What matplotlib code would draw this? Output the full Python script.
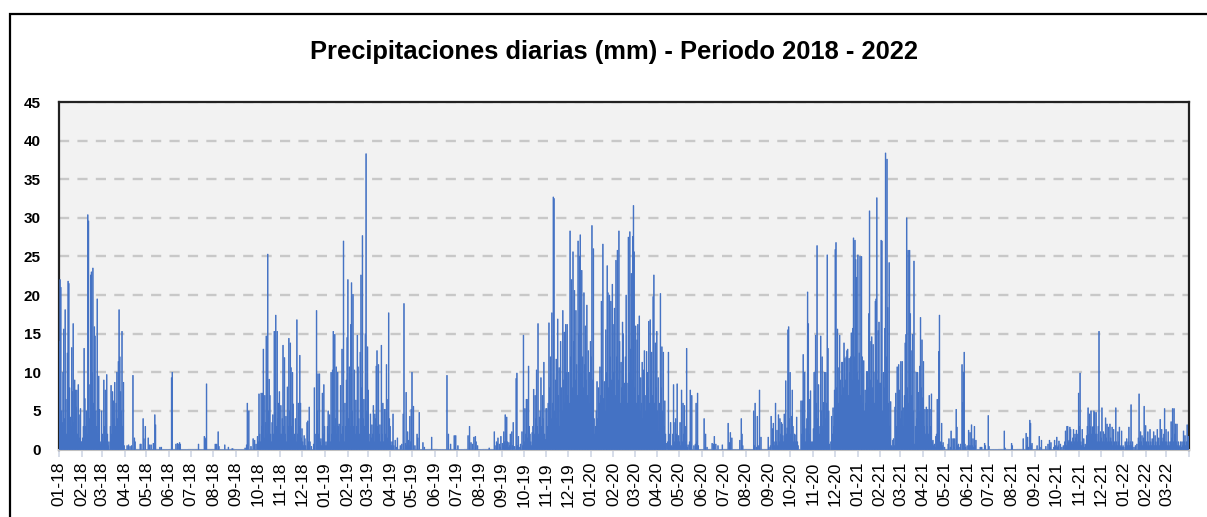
import matplotlib
matplotlib.use('Agg')
import matplotlib.pyplot as plt
import numpy as np
import pandas as pd
from matplotlib.patches import Rectangle

title = "Precipitaciones diarias (mm) - Periodo 2018 - 2022"
start_date = "2018-01-01"
end_date = "2022-03-31"
y_ticks = [0, 5, 10, 15, 20, 25, 30, 35, 40, 45]

# Daily precipitation (mm), one list per month
rain_2018 = [
    [14, 22, 21, 5, 3.5, 10, 15.6, 4, 18.1, 6.5, 2, 12.5, 21.8, 21.5, 8, 4.2, 3, 13.2, 7.5, 16.3, 3.5, 9, 7.7, 5.5, 7.7, 2, 8.4, 4.5, 1.5, 5.3, 1],
    [1, 1.5, 3, 13.1, 6.6, 3, 5, 2, 30.4, 29.6, 4, 8.4, 22.6, 23, 10, 23.5, 6, 15.9, 14.7, 5, 3, 19.5, 2, 9.5, 5.2, 1, 0.7, 5],
    [2, 1, 9, 3, 7.7, 1.5, 9.7, 2, 0.5, 1, 0, 3, 8.3, 2, 7.5, 6.3, 4, 8.7, 3, 6, 10, 4, 11.4, 18.1, 12, 7.5, 5, 15.3, 3, 8.7, 0.5],
    [0, 0, 0, 0.5, 0, 0.6, 0, 0.4, 0, 0.5, 0, 9.6, 0, 1.5, 1, 0, 0, 0, 0, 0, 0, 0.7, 0.7, 0, 0, 4, 1.4, 0, 3, 0],
    [0, 0, 1.5, 0, 0.6, 0, 0.6, 0, 0, 0.8, 0, 4.5, 3.2, 0, 0, 0, 0, 0, 0.3, 0, 0.3, 0, 0, 0, 0, 0, 0, 0, 0, 0, 0],
    [0, 0, 0, 9.3, 10, 0, 0, 0, 0, 0.7, 0, 0.8, 0, 0.7, 0.9, 0.7, 0, 0, 0, 0, 0, 0, 0, 0, 0, 0, 0, 0, 0, 0],
    [0, 0, 0, 0, 0, 0, 0, 0, 0, 0, 0.7, 0, 0, 0, 0, 0, 0, 0, 1.7, 1.5, 1.3, 8.5, 0, 0, 0, 0, 0, 0, 0, 0, 0],
    [0, 0, 0.7, 0, 0.7, 0, 2.3, 0.4, 0, 0, 0, 0, 0, 0, 0, 0.6, 0, 0, 0, 0, 0.3, 0, 0, 0, 0, 0.1, 0.1, 0, 0, 0, 0],
    [0, 0, 0, 0, 0, 0, 0, 0, 0, 0, 0, 0, 0.2, 0, 0.6, 6, 0, 5, 0, 0, 0.4, 0, 0, 1.4, 0, 1.2, 0, 0.7, 0, 1.7],
    [1, 7.2, 2, 1, 7.3, 3, 7.3, 13, 1.5, 7, 3.5, 14.7, 2, 25.3, 5, 9.1, 7, 2, 1, 3.5, 4.5, 2, 15.3, 6, 17.4, 3, 15.3, 4, 6, 7.5, 2],
    [5.7, 2, 4, 13.5, 3, 11.9, 2, 4.3, 1, 8.1, 3, 14.4, 5, 13.8, 10.6, 3, 10, 5.9, 1.5, 2, 4, 1, 16.8, 2, 6, 3, 12.2, 6, 1.5, 2.7],
    [1, 0.5, 1.8, 1.4, 0.5, 0, 3.5, 3.7, 1, 5.5, 1, 0, 0.4, 0, 0, 0.7, 8, 2, 0, 18, 5, 9.8, 2, 9.8, 1, 1.4, 0.5, 7.3, 2, 8.4, 3],
]
rain_2019 = [
    [0.5, 1, 0.5, 3, 5, 2, 4.5, 1, 10, 2, 10.3, 15.3, 3, 14.9, 4, 10.7, 2, 10, 3, 3.3, 1, 8.3, 2, 13, 3, 27, 1, 6, 3, 9, 14.5],
    [22, 4, 10.7, 3, 16.2, 21.6, 5, 20.1, 3, 10.3, 2, 6.4, 3, 14.8, 10.7, 4, 2, 12.6, 22.6, 8, 27.7, 4, 6.5, 3, 15, 38.3, 5, 13.3],
    [7.7, 2, 1, 4.6, 1.5, 3.2, 2, 5.7, 1, 4.6, 4, 10.8, 12.8, 3, 11, 2, 3.2, 1, 13.5, 2, 6, 1, 5.2, 5.2, 2, 11, 1.5, 6.5, 17.7, 4, 3],
    [1, 0.5, 1, 4.6, 0.5, 0, 1.2, 0, 0.3, 1.5, 0, 0, 0, 0.5, 0, 0.7, 0, 4.6, 18.9, 0, 0.8, 7.4, 0.5, 2.3, 1.2, 0.5, 4.3, 1, 5.2, 10],
    [0, 5.6, 0, 0.5, 0, 0, 2, 1.5, 0, 4.8, 0, 0, 0, 0, 0.9, 0, 0.3, 0, 0, 0, 0, 0, 0, 0, 0, 0, 1.6, 0, 0, 0, 0],
    [0, 0, 0, 0, 0, 0, 0, 0, 0, 0, 0, 0, 0, 0, 0, 0, 9.6, 0, 2, 0, 0, 0.7, 0, 0, 0, 0, 1.8, 0, 1.8, 0],
    [0, 0.5, 0, 0, 0, 0, 0, 0, 0, 0, 0, 0, 0, 0, 0, 1.8, 0, 3, 0, 0.9, 0, 0.7, 0, 1.6, 0, 1.7, 1, 0, 0.5, 0, 0],
    [0, 0, 0, 0, 0, 0, 0, 0, 0, 0, 0, 0, 0, 0.2, 0, 0, 0, 0, 0, 0, 2.3, 0.5, 0, 1, 0.8, 1.5, 0, 0.7, 0.3, 1.7, 0],
    [0.8, 0.5, 2.3, 1, 4.5, 0.5, 4.2, 1, 0.3, 0.9, 0.5, 2, 0, 2.3, 0.5, 3.5, 0, 0.4, 0, 9.2, 9.9, 0.5, 1.7, 0, 0.3, 0.7, 0, 2.3, 0.5, 14.8],
    [1, 5.3, 2, 6.5, 6.5, 1.5, 10.8, 3, 2, 1, 0.5, 2.2, 3, 7.8, 2, 7, 4, 10.3, 3, 16.3, 2, 4.2, 5, 9.3, 3, 7, 4, 11.3, 2, 1.3, 5.3],
    [5.3, 3, 6, 16.4, 8, 12, 4, 17.7, 6, 32.7, 32.5, 5, 9, 11.7, 4, 16.9, 7, 10.6, 3, 14, 8, 5, 18, 9, 15.2, 6, 16.2, 10, 16.2, 7],
    [10, 6, 28.3, 12, 22, 8, 25.6, 14, 20.6, 9, 18, 11, 7, 27, 15, 25, 27.8, 10, 23.2, 12, 8, 20.3, 11, 16, 9, 18.7, 7, 12.8, 6, 10, 14],
]
rain_2020 = [
    [12, 29, 9, 26, 4, 2, 3, 5, 8.8, 4, 8, 6, 10.7, 7, 19.2, 9, 26.6, 6.6, 8.8, 5, 15.5, 10, 23.8, 20.3, 8, 20, 12, 19.2, 9, 21.4, 16.2],
    [10, 18.3, 7, 24.5, 12, 25.8, 9, 28.3, 14, 6, 11.3, 8, 16.5, 15, 7, 8.6, 12, 20, 8.6, 6, 27.5, 10, 28.2, 13, 22.8, 9, 27.6, 31.6, 25.6],
    [8, 16, 6, 14.2, 16.2, 7, 17.3, 5, 9.3, 6, 11.3, 4, 10.3, 12.8, 7, 5, 12.7, 10, 8, 16.6, 6, 16.8, 9, 12.6, 7, 19.8, 22.6, 6, 13.8, 8, 15.3],
    [5, 9.3, 2.3, 6, 20.2, 8, 13.3, 5, 12.6, 3, 6.3, 2, 0.8, 0, 1, 12.6, 2, 1, 3.5, 0.5, 0.3, 2, 8.4, 1, 3.5, 4, 2, 8.5, 1, 1.8],
    [1, 3.5, 0.5, 7.7, 1, 6, 2, 5.7, 3, 1, 13.1, 0.3, 0.6, 0, 1, 7.7, 0.5, 7, 0, 0, 0.5, 0, 0.7, 6, 1, 7.3, 0.5, 0, 0, 0, 0],
    [0, 0, 0, 4, 0, 2, 0, 0.3, 0, 0, 0, 0, 0, 0, 0.8, 0, 0.7, 1.7, 0, 0.7, 0, 0, 0.5, 0, 0, 0, 0, 0, 0.6, 0],
    [0, 0, 0, 0, 0, 0, 3.4, 0, 0.9, 2.2, 0, 1.5, 0, 0, 0, 0, 0, 0, 0, 0, 0, 0, 1.2, 0, 4, 2, 0.5, 0, 0, 0, 0],
    [0, 0, 0, 0, 0, 0, 0, 0, 0, 0, 5, 0.5, 6, 0, 0.3, 4.3, 0, 0.5, 7.7, 0, 1.6, 0, 0, 0, 0, 0, 0, 0, 0, 0, 1.6],
    [0.3, 0, 0.5, 4.3, 0, 2.7, 3.4, 1, 0.5, 6, 1, 2.5, 0.5, 4.5, 1, 4, 2, 3.5, 3.3, 1.8, 1, 4.6, 2, 8.9, 2, 2.8, 15.5, 15.9, 4, 10],
    [2, 4.3, 7.7, 3, 1, 2, 1, 1.9, 4.2, 1, 0.5, 0, 0, 0, 6.3, 2, 6.3, 12.3, 3, 10, 1, 2.7, 4, 20.4, 16.3, 2, 6.5, 7.6, 1, 0.7, 1],
    [2.7, 10, 7.6, 14.8, 6, 26.4, 4, 8.4, 2, 3, 14.7, 5, 12, 3, 6.1, 10, 4, 10, 6, 25.2, 13.1, 5, 0.7, 0, 1, 4.3, 2, 5.4, 3, 7.7],
    [25.9, 26.8, 8, 15.6, 6, 10.6, 14.8, 9, 7, 11.3, 11.3, 8, 13.8, 11.8, 9, 12, 12.8, 13, 7, 11.8, 10, 12, 15.1, 9, 15.7, 27.4, 12, 27.1, 24.6, 22.3, 10],
]
rain_2021 = [
    [25.2, 9, 12.5, 25, 7, 25, 12, 6, 11.5, 5, 7.7, 6, 10.1, 10.1, 8, 17.6, 30.9, 9, 14, 14.6, 8, 13.6, 10, 6, 19.2, 19.5, 32.6, 9, 15.4, 16.5, 8.6],
    [8.6, 27.1, 27, 5, 10, 8, 15.7, 38.4, 12, 37.6, 18.4, 6, 24.2, 3, 6.2, 0.5, 0.3, 1.2, 1.4, 0.5, 5.5, 7.3, 3, 10.7, 5, 11, 7.7, 4],
    [11.4, 5, 11.4, 3, 5.4, 7, 13.8, 14.9, 30, 8, 25.8, 6, 25.8, 17.6, 12.8, 7, 14.9, 5, 24.4, 0.7, 3, 10, 4, 10, 7.4, 5, 10.8, 17.1, 8, 14.2, 6.7],
    [11.4, 3, 5.2, 2, 5.5, 3, 5.2, 2, 7, 5.2, 3, 7.2, 1, 1.2, 0.5, 0.7, 0.3, 1.7, 2, 6.5, 4, 12.7, 17.4, 1, 0.9, 3.4, 0.5, 0.9, 0, 0.3],
    [0, 0, 0, 0, 0.7, 1.4, 0, 0.3, 2.4, 1.4, 0, 1.4, 0.3, 1.4, 0, 5.2, 2.9, 0.5, 0.7, 0, 0.3, 0.7, 0, 11, 6.1, 10, 12.6, 0.7, 0.3, 0, 0.5],
    [0, 2.5, 0.5, 2.2, 0.5, 3.2, 0.5, 1.4, 0.3, 3, 0.5, 1.2, 0, 0, 0, 0, 0, 0.3, 0, 0.3, 0, 0, 0, 0.8, 0.5, 0, 0, 0, 4.4, 0.4],
    [0, 0, 0, 0, 0, 0, 0, 0, 0, 0, 0, 0, 0, 0, 0, 0, 0, 0, 0, 0, 2.4, 0.2, 0, 0, 0, 0, 0, 0, 0, 0, 0.8],
    [0.5, 0, 0, 0, 0, 0, 0, 0, 0, 0, 0, 0, 0, 0, 0, 1.4, 0, 0, 0, 2.1, 0.5, 1.6, 0.3, 0, 3.8, 3.4, 0.5, 0.8, 0, 0, 0],
    [0, 0, 0, 0.5, 0, 0, 1.7, 0.3, 0, 1.2, 0, 0, 0, 0, 0, 0.4, 0, 0, 0.7, 0, 1.2, 0.3, 0.9, 0, 0, 0, 0.3, 1.2, 0.5, 0],
    [1.6, 0.3, 0.5, 1.1, 0, 0.7, 0, 0.3, 0, 0.5, 0, 1, 2.4, 0.5, 3, 3, 1, 1.2, 2.9, 2.6, 1, 0.7, 1.5, 2.6, 1, 2, 1.5, 2.5, 1, 2, 7.3],
    [3, 9.9, 1, 0.5, 2.6, 1, 1.4, 0.3, 0.7, 0.5, 1.8, 3, 5.4, 2, 4.6, 3, 5, 2, 2.9, 3, 5, 4.8, 2, 4.8, 2, 1, 3, 15.3, 1, 2.3],
    [1.5, 5.4, 1, 2.3, 1, 2, 4.1, 1.5, 3.3, 1, 2.9, 1, 3.3, 1.5, 1, 2.9, 0.5, 2.6, 1, 0.5, 5.4, 1, 0.5, 2.3, 1, 2.9, 0.3, 0.5, 2.4, 0.3, 0.5],
]
rain_2022 = [
    [0.3, 0, 1, 0.3, 1.4, 0.5, 1, 2.9, 0.5, 1, 5.8, 0.5, 1, 0, 0.3, 0, 0.5, 0, 0.7, 0, 1.5, 7.2, 1, 2.3, 1, 1.8, 0.5, 1.5, 5.6, 1, 3.1],
    [1, 0.5, 2.3, 1, 0.5, 2.6, 1, 0.5, 1.4, 1, 2.3, 0.5, 1.8, 1, 0.5, 2.6, 1, 1.5, 0.5, 3.9, 1, 2.6, 1, 1.5, 2, 5.3, 1, 2.6],
    [1, 0.5, 2.3, 1, 0.5, 1, 3.6, 1.5, 5.3, 1, 5.3, 2, 3.3, 1, 3.3, 0.5, 1, 0.3, 0.5, 1, 0.3, 1, 0.5, 2.4, 1, 1.8, 0.5, 1, 3.2, 1, 1.7],
]

# ---- assemble the daily series ----
dates = pd.date_range(start_date, end_date, freq="D")
values = []
for year, months in [(2018, rain_2018), (2019, rain_2019), (2020, rain_2020),
                     (2021, rain_2021), (2022, rain_2022)]:
    for m, vals in enumerate(months, start=1):
        n = pd.Period(f"{year}-{m:02d}").days_in_month
        assert len(vals) == n, (year, m, len(vals), n)
        values.extend(vals)
values = np.array(values, dtype=float)
assert len(values) == len(dates)

W, H = 1207, 517
fig = plt.figure(figsize=(W / 100, H / 100), dpi=100)
fig.patch.set_facecolor("white")

# outer chart frame (cropped screenshot)
fig.patches.append(Rectangle((10 / W, -0.2), 1.2, 1.2 - 14 / H,
                             transform=fig.transFigure, fill=False,
                             edgecolor="black", linewidth=1.6, clip_on=False))

ax = fig.add_axes([59 / W, 1 - 449.5 / H, 1130 / W, 347.5 / H])
ax.set_facecolor("#F2F2F2")

x = np.arange(len(values))
bars = ax.bar(x, values, width=1.0, align="edge", color="#4472C4",
              edgecolor="#4472C4", linewidth=0.5, zorder=3)
for b in bars:
    b.set_snap(False)

ax.set_xlim(0, len(values))
ax.set_ylim(0, 45)
ax.set_yticks(y_ticks)
ax.set_yticklabels([str(t) for t in y_ticks], fontsize=11, fontweight="bold",
                   family=["Liberation Sans", "DejaVu Sans"])
ax.tick_params(axis="y", length=0, pad=13)

month_starts = [i for i, d in enumerate(dates) if d.day == 1]
month_labels = [dates[i].strftime("%m-%y") for i in month_starts]
ax.set_xticks(month_starts + [len(values)])
ax.set_xticklabels(month_labels + [""], rotation=90, fontsize=12.5,
                   family=["Liberation Sans", "DejaVu Sans"])
ax.tick_params(axis="x", length=5, width=1.2, color="#D0D7E5", pad=4)

ax.yaxis.grid(True, linestyle=(0, (4.3, 3.5)), color="#C8C8C8", linewidth=1.7, zorder=1)
ax.set_axisbelow(True)

for side in ["left", "top", "right"]:
    ax.spines[side].set_color("#222222")
    ax.spines[side].set_linewidth(1.6)
ax.spines["bottom"].set_color("#C0C0C0")
ax.spines["bottom"].set_linewidth(1.5)

fig.text(614 / W, 1 - 52 / H, title, ha="center", va="center", fontsize=18.4,
         fontweight="bold", family=["Liberation Sans Narrow", "Liberation Sans", "DejaVu Sans"])

fig.savefig("out.png", dpi=100)
